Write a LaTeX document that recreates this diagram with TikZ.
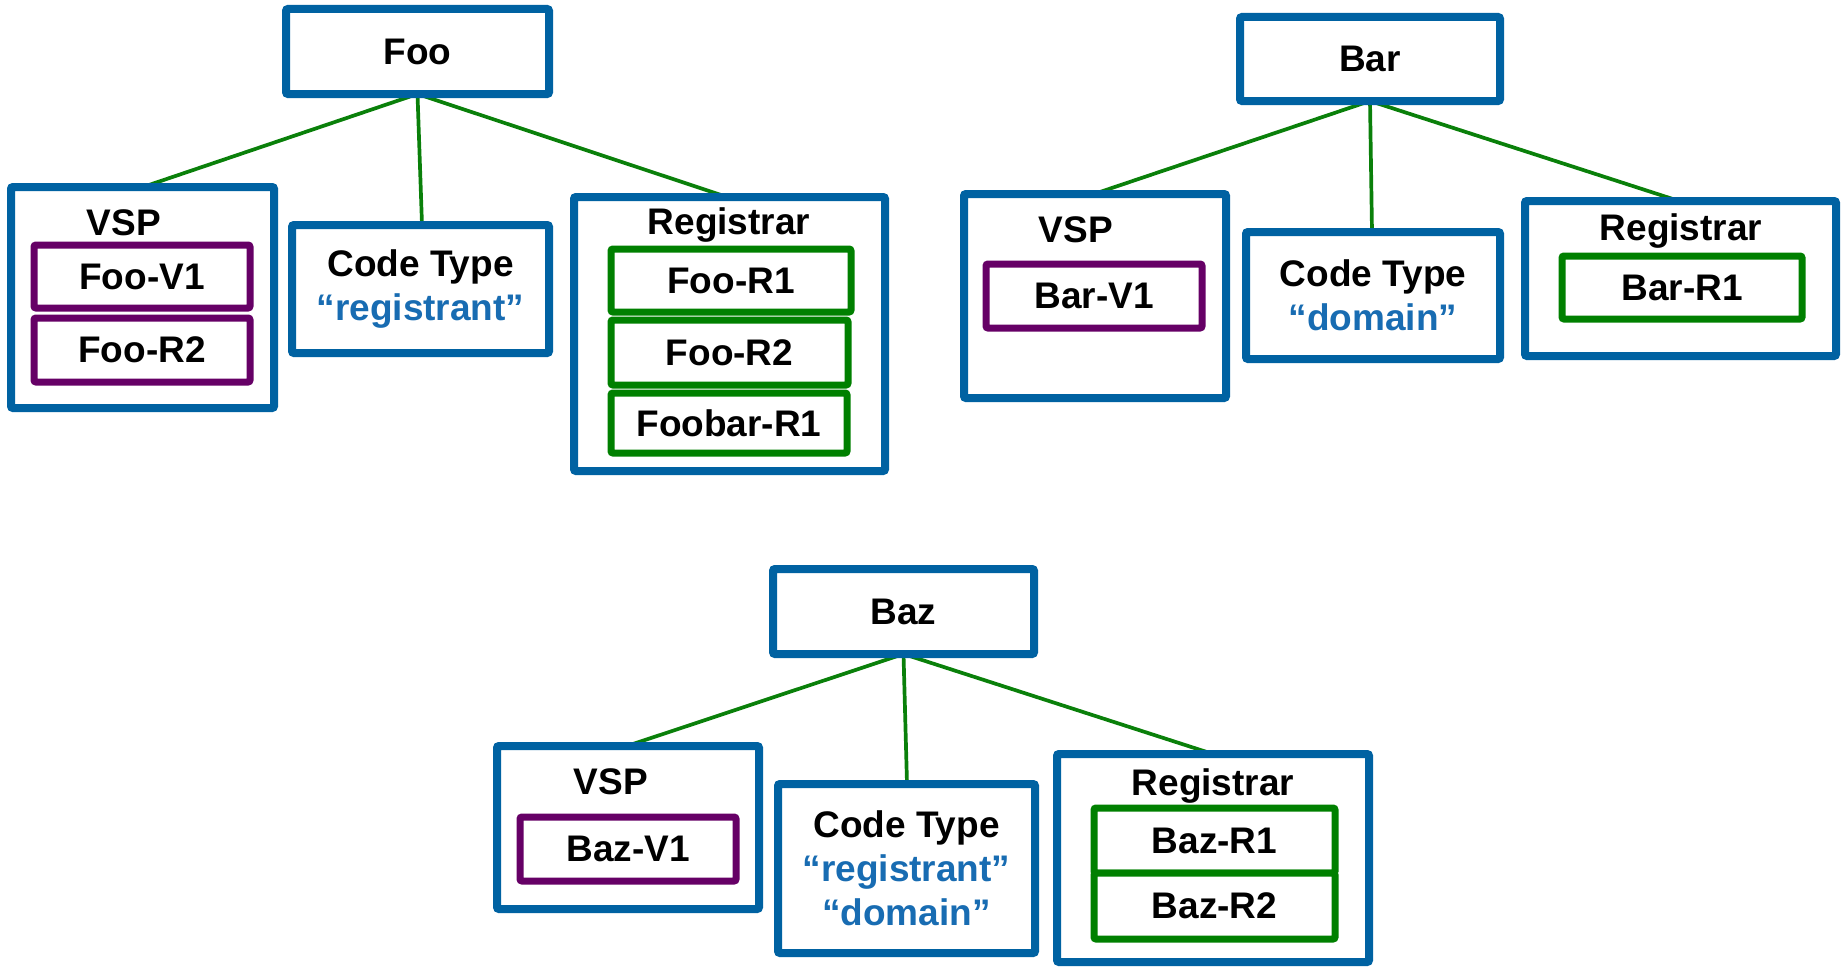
\documentclass[tikz,border=0pt]{standalone}
\usepackage{fontspec}
\setmainfont{Liberation Sans}
\usetikzlibrary{calc,backgrounds}
\definecolor{boxblue}{RGB}{0,98,162}
\definecolor{txtblue}{RGB}{24,108,178}
\definecolor{vpurple}{RGB}{102,0,102}
\definecolor{rgreen}{RGB}{0,128,0}
\definecolor{lgreen}{RGB}{10,128,10}
\newcommand\diagfont{\fontsize{37}{44}\selectfont\bfseries}
\tikzset{
  bbox/.style={draw=boxblue, line width=8pt, fill=white, rounded corners=2pt, inner sep=0pt, outer sep=0pt, font=\diagfont, align=center},
  pbox/.style={draw=vpurple, line width=7pt, fill=white, rounded corners=2pt, inner sep=0pt, outer sep=0pt, font=\diagfont, minimum width=216pt},
  gbox/.style={draw=rgreen, line width=7pt, fill=white, rounded corners=2pt, inner sep=0pt, outer sep=0pt, font=\diagfont},
  conn/.style={draw=lgreen, line width=3.7pt},
  lbl/.style={font=\diagfont, anchor=base, inner sep=0pt}
}
\begin{document}
\begin{tikzpicture}[x=1pt,y=-1pt]
\useasboundingbox (0,0) rectangle (1843,966);
% ---------- Foo ----------
\node[bbox, minimum width=263pt, minimum height=85pt] (foo) at (417.5,51.5) {Foo};
\node[bbox, minimum width=263pt, minimum height=221pt] (fvsp) at (142.5,297.5) {};
\node[lbl] (fvspl) at (124,235) {VSP};
\node[pbox, minimum height=63pt] (fv1) at (142,276.5) {Foo-V1};
\node[pbox, minimum height=64pt] (fv2) at (142,350) {Foo-R2};
\node[bbox, minimum width=257pt, minimum height=128pt] (fct) at (420.5,289) {Code Type\\\textcolor{txtblue}{“registrant”}};
\node[bbox, minimum width=311pt, minimum height=274pt] (freg) at (729.5,334) {};
\node[lbl] (fregl) at (729,234) {Registrar};
\node[gbox, minimum width=240pt, minimum height=63pt] (fr1) at (731,280.5) {Foo-R1};
\node[gbox, minimum width=237pt, minimum height=65pt] (fr2) at (729.5,352.5) {Foo-R2};
\node[gbox, minimum width=236pt, minimum height=60pt] (fr3) at (729,423) {Foobar-R1};
% ---------- Bar ----------
\node[bbox, minimum width=260pt, minimum height=84pt] (bar) at (1370,59) {Bar};
\node[bbox, minimum width=262pt, minimum height=204pt] (bvsp) at (1095,296) {};
\node[lbl] (bvspl) at (1076,242) {VSP};
\node[pbox, minimum height=64pt] (bv1) at (1094,296) {Bar-V1};
\node[bbox, minimum width=254pt, minimum height=127pt] (bct) at (1373,295.5) {Code Type\\\textcolor{txtblue}{“domain”}};
\node[bbox, minimum width=311pt, minimum height=155pt] (breg) at (1680.5,278.5) {};
\node[lbl] (bregl) at (1681,240) {Registrar};
\node[gbox, minimum width=240pt, minimum height=63pt] (br1) at (1682,287.5) {Bar-R1};
% ---------- Baz ----------
\node[bbox, minimum width=261pt, minimum height=85pt] (baz) at (903.5,611.5) {Baz};
\node[bbox, minimum width=262pt, minimum height=163pt] (zvsp) at (628,827.5) {};
\node[lbl] (zvspl) at (611,794) {VSP};
\node[pbox, minimum height=64pt] (zv1) at (628,849) {Baz-V1};
\node[bbox, minimum width=257pt, minimum height=169pt] (zct) at (906.5,868.5) {Code Type\\\textcolor{txtblue}{“registrant”}\\\textcolor{txtblue}{“domain”}};
\node[bbox, minimum width=312pt, minimum height=208pt] (zreg) at (1213,858) {};
\node[lbl] (zregl) at (1213,795) {Registrar};
\node[gbox, minimum width=241pt, minimum height=65pt] (zr1) at (1214.5,840.5) {Baz-R1};
\node[gbox, minimum width=241pt, minimum height=66pt] (zr2) at (1214.5,906) {Baz-R2};
% ---------- connectors ----------
\begin{scope}[on background layer]
\draw[conn] (foo.south) -- ($(fvsp.north)+(0.5,0)$);
\draw[conn] (foo.south) -- ($(fct.north)+(1.5,0)$);
\draw[conn] (foo.south) -- ($(freg.north)+(-2.5,0)$);
\draw[conn] (bar.south) -- ($(bvsp.north)+(-1,0)$);
\draw[conn] (bar.south) -- ($(bct.north)+(-1,0)$);
\draw[conn] (bar.south) -- ($(breg.north)+(-1.5,0)$);
\draw[conn] (baz.south) -- ($(zvsp.north)+(-1,0)$);
\draw[conn] (baz.south) -- ($(zct.north)+(0.5,0)$);
\draw[conn] (baz.south) -- ($(zreg.north)+(0,0)$);
\end{scope}
\end{tikzpicture}
\end{document}
